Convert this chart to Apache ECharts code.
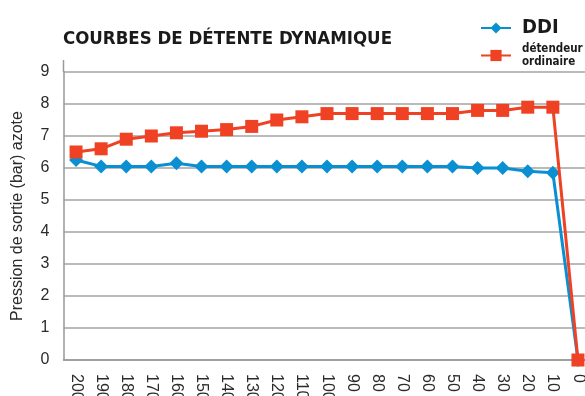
<!DOCTYPE html>
<html>
<head>
<meta charset="utf-8">
<script src="https://cdn.jsdelivr.net/npm/echarts@6/dist/echarts.min.js"></script>
<style>
  html, body { margin: 0; padding: 0; background: #fff; }
  #chart { width: 585px; height: 396px; }
</style>
</head>
<body>
<div id="chart"></div>
<script>
// Remaining bottle pressure (bar), read left to right from full to empty
const categories = ['200','190','180','170','160','150','140','130','120','110','100','90','80','70','60','50','40','30','20','10','0'];

// Outlet pressure (bar) of nitrogen
const ddiValues      = [6.25, 6.05, 6.05, 6.05, 6.15, 6.05, 6.05, 6.05, 6.05, 6.05, 6.05, 6.05, 6.05, 6.05, 6.05, 6.05, 6.0, 6.0, 5.9, 5.85, 0];
const ordinaryValues = [6.5, 6.6, 6.9, 7.0, 7.1, 7.15, 7.2, 7.3, 7.5, 7.6, 7.7, 7.7, 7.7, 7.7, 7.7, 7.7, 7.8, 7.8, 7.9, 7.9, 0];

const seriesNames = ['DDI', 'détendeur ordinaire'];
const yTicks = { min: 0, max: 9, interval: 1 };

const BLUE = '#0a90d2';
const RED = '#ef4123';
const GRID = '#a3a3a3';
const TEXT = '#2b2b2b';
const NARROW = '"Liberation Sans Narrow", "DejaVu Sans Condensed", sans-serif';
const SANS = '"Liberation Sans", Arial, sans-serif';

const chart = echarts.init(document.getElementById('chart'), null, { renderer: 'canvas' });

chart.setOption({
  animation: false,
  backgroundColor: '#fff',
  title: {
    text: 'COURBES DE DÉTENTE DYNAMIQUE',
    left: 58,
    top: 25,
    textStyle: { fontFamily: NARROW, fontWeight: 'bold', fontSize: 18.5, color: '#1a1a1a' }
  },
  legend: {
    orient: 'vertical',
    left: 475,
    top: 13,
    itemWidth: 30,
    itemHeight: 14,
    itemGap: 5,
    data: [
      { name: seriesNames[0] },
      { name: seriesNames[1] }
    ],
    formatter: function (name) {
      return name === seriesNames[0] ? '{big|' + name + '}' : '{small|' + name.replace(' ', '\n') + '}';
    },
    textStyle: {
      rich: {
        big: { fontFamily: NARROW, fontWeight: 'bold', fontSize: 20, color: '#1a1a1a', lineHeight: 22, padding: [0, 0, 0, 6] },
        small: { fontFamily: NARROW, fontWeight: 'bold', fontSize: 11.5, color: '#1a1a1a', lineHeight: 13, padding: [0, 0, 0, 6] }
      }
    }
  },
  grid: {
    left: 63.5,
    top: 72,
    width: 527,
    height: 288,
    containLabel: false,
    outerBoundsMode: 'none'
  },
  xAxis: {
    type: 'category',
    data: categories,
    boundaryGap: true,
    axisLine: { show: true, lineStyle: { color: '#999', width: 1.5 } },
    axisTick: { show: false },
    axisLabel: {
      rotate: -90,
      interval: 0,
      margin: 14,
      fontFamily: SANS,
      fontSize: 16,
      color: TEXT
    },
    splitLine: { show: false }
  },
  yAxis: {
    type: 'value',
    min: yTicks.min,
    max: yTicks.max,
    interval: yTicks.interval,
    name: 'Pression de sortie (bar) azote',
    nameLocation: 'middle',
    nameRotate: 90,
    nameGap: 38,
    nameTextStyle: { fontFamily: SANS, fontSize: 16, color: TEXT },
    axisLine: { show: true, lineStyle: { color: '#999', width: 1.5 } },
    axisTick: { show: false },
    axisLabel: { fontFamily: SANS, fontSize: 16, color: TEXT, margin: 14 },
    splitLine: { show: true, lineStyle: { color: GRID, width: 1.5 } }
  },
  graphic: [
    {
      // the vertical axis rule runs a little above the top gridline
      type: 'line',
      shape: { x1: 63.5, y1: 60, x2: 63.5, y2: 72 },
      style: { stroke: '#999', lineWidth: 1.5 },
      silent: true
    }
  ],
  series: [
    {
      name: seriesNames[0],
      type: 'line',
      data: ddiValues,
      symbol: 'diamond',
      symbolSize: 14,
      lineStyle: { color: BLUE, width: 3 },
      itemStyle: { color: BLUE },
      z: 2
    },
    {
      name: seriesNames[1],
      type: 'line',
      data: ordinaryValues,
      symbol: 'rect',
      symbolSize: 13,
      lineStyle: { color: RED, width: 3 },
      itemStyle: { color: RED },
      z: 3
    }
  ]
});
</script>
</body>
</html>
